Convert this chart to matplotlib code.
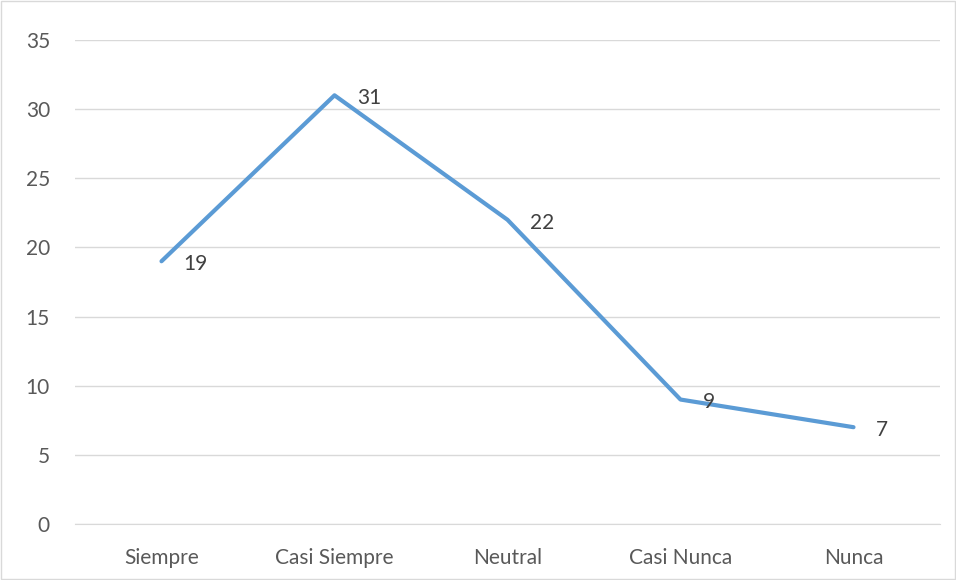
import matplotlib.pyplot as plt
import matplotlib.patches as patches

categories = ['Siempre', 'Casi Siempre', 'Neutral', 'Casi Nunca', 'Nunca']
values = [19, 31, 22, 9, 7]
yticks = [0, 5, 10, 15, 20, 25, 30, 35]

plt.rcParams['font.family'] = ['Lato', 'DejaVu Sans']

fig = plt.figure(figsize=(9.56, 5.8), dpi=100)
ax = fig.add_axes([75 / 956, 1 - 524 / 580, 865 / 956, 484 / 580])

x = list(range(len(categories)))
ax.plot(x, values, color='#5B9BD5', linewidth=3, solid_capstyle='round', zorder=3)

for xi, v in zip(x, values):
    ax.annotate(str(v), (xi, v), xytext=(16, -2), textcoords='offset points',
                ha='left', va='center', fontsize=15, color='#404040')

ax.set_xlim(-0.5, len(categories) - 0.5)
ax.set_ylim(0, 35)
ax.set_yticks(yticks)
ax.set_xticks(x)
ax.set_xticklabels(categories)
ax.yaxis.grid(True, color='#D9D9D9', linewidth=1)
ax.set_axisbelow(True)
for s in ['top', 'right', 'left']:
    ax.spines[s].set_visible(False)
ax.spines['bottom'].set_color('#D9D9D9')
ax.tick_params(axis='both', length=0, labelsize=15, labelcolor='#595959')
ax.tick_params(axis='y', pad=18)
ax.tick_params(axis='x', pad=17)

# outer chart border
fig.patches.append(patches.Rectangle((0.001, 0.001), 0.998, 0.997, transform=fig.transFigure,
                                     fill=False, edgecolor='#D9D9D9', linewidth=1))

fig.savefig('out.png', dpi=100)
